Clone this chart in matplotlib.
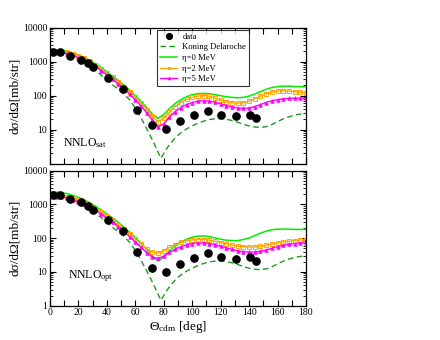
import matplotlib
matplotlib.use('Agg')
import matplotlib.pyplot as plt
from matplotlib.ticker import MultipleLocator, LogLocator, NullFormatter

plt.rcParams.update({
    'font.family': 'Liberation Serif',
    'mathtext.fontset': 'custom',
    'mathtext.rm': 'Liberation Serif',
    'mathtext.it': 'Liberation Serif:italic',
    'font.size': 7,
})

# data (both panels)
data_deg = [2, 7, 14, 22, 26.5, 30, 41, 51, 61, 71.5, 81.5, 91.5, 101, 111,
            120.5, 130.5, 140.5, 145]
data_xs = [1950, 1900, 1480, 1150, 900, 690, 340, 160, 38, 13.4, 10.3, 17.6,
           26.5, 35.5, 28, 25, 27.5, 21.5]

# theory curves on a 4-degree grid
theta = list(range(0, 181, 4))

sat_eta0 = [2290, 2265, 2190, 2040, 1820, 1585, 1350, 1096, 871, 676, 501, 380,
            282, 204, 145, 100, 67.6, 44.7, 28.8, 21.4, 28.2, 41.7, 58.9, 75.9,
            93.3, 107, 115, 117, 115, 107, 100, 93.3, 89.1, 87.1, 89.1, 97.7,
            112, 132, 155, 174, 186, 191, 191, 186, 186, 182]
sat_eta2 = [2140, 2110, 2040, 1905, 1700, 1480, 1260, 1023, 813, 617, 457, 347,
            257, 186, 132, 91.2, 60.3, 38.9, 24.5, 17.4, 21.4, 33.1, 47.9, 63.1,
            77.6, 89.1, 97.7, 100, 95.5, 85.1, 74.1, 66.1, 61.7, 60.3, 61.7, 69.2,
            81.3, 97.7, 115, 129, 138, 141, 138, 132, 126, 120]
sat_eta5 = [1950, 1930, 1860, 1740, 1550, 1320, 1120, 912, 724, 550, 407, 302,
            224, 158, 112, 75.9, 50.1, 31.6, 19.1, 12.3, 14.8, 23.4, 33.9, 44.7,
            55.0, 63.1, 69.2, 70.8, 69.2, 64.6, 57.5, 51.3, 46.8, 43.7, 42.7, 43.7,
            47.9, 55.0, 63.1, 70.8, 75.9, 81.3, 83.2, 85.1, 85.1, 85.1]

opt_eta0 = [2340, 2320, 2240, 2090, 1860, 1620, 1380, 1120, 891, 692, 525, 398,
            295, 214, 151, 105, 70.8, 46.8, 29.5, 20.9, 27.5, 41.7, 58.9, 77.6,
            93.3, 107, 115, 117, 112, 102, 93.3, 87.1, 85.1, 85.1, 91.2, 102,
            120, 141, 162, 178, 186, 186, 186, 182, 182, 182]
opt_eta2 = [1905, 1880, 1820, 1700, 1510, 1320, 1120, 933, 759, 589, 447, 339,
            251, 186, 135, 95.5, 67.6, 49.0, 38.9, 37.2, 42.7, 53.7, 64.6, 75.9,
            83.2, 89.1, 91.2, 91.2, 87.1, 81.3, 74.1, 67.6, 63.1, 58.9, 56.2, 55.0,
            55.0, 57.5, 61.7, 67.6, 72.4, 77.6, 81.3, 85.1, 89.1, 91.2]
opt_eta5 = [1740, 1720, 1660, 1550, 1380, 1200, 1023, 851, 676, 525, 389, 295,
            219, 158, 112, 77.6, 53.7, 37.2, 27.5, 25.1, 29.5, 38.0, 46.8, 56.2,
            63.1, 69.2, 72.4, 72.4, 69.2, 64.6, 57.5, 51.3, 46.8, 42.7, 39.8, 38.9,
            38.9, 40.7, 44.7, 50.1, 56.2, 61.7, 66.1, 69.2, 72.4, 72.4]

# Koning-Delaroche (same in both panels)
kd_deg = [0, 4, 8, 12, 16, 20, 24, 28, 32, 36, 40, 44, 48, 52, 56, 60, 64, 68,
          72, 74, 76, 78, 80, 82, 84, 88, 92, 96, 100, 104, 108, 112, 116, 120,
          124, 128, 132, 136, 140, 144, 148, 152, 156, 160, 164, 168, 172, 176,
          180]
kd_xs = [1950, 1905, 1820, 1660, 1445, 1175, 933, 724, 550, 407, 288, 209, 155,
         112, 75.9, 43.7, 22.4, 10.7, 5.01, 3.31, 2.19, 1.45, 2.00, 2.75, 3.63,
         5.75, 8.13, 10.5, 12.9, 15.5, 17.8, 20.0, 20.9, 21.4, 20.4, 18.6, 16.6,
         14.5, 12.9, 12.0, 11.7, 12.3, 14.1, 17.4, 20.9, 24.0, 26.9, 28.8, 30.2]

y_ticks = [1, 10, 100, 1000, 10000]

GREEN = '#00ee00'
ORANGE = '#ffa500'
MAGENTA = '#ff00ff'
DGREEN = '#1f9a1f'

fig = plt.figure(figsize=(4.4, 3.4), dpi=100)
ax_top = fig.add_axes([0.1136, 0.5185, 0.5818, 0.4])
ax_bot = fig.add_axes([0.1136, 0.1009, 0.5818, 0.397])


def draw(ax, eta0, eta2, eta5, tag, tag_pos, ylabels):
    ax.plot(data_deg, data_xs, 'o', color='black', markersize=5.2,
            label='data', zorder=5)
    ax.plot(kd_deg, kd_xs, '--', color=DGREEN, linewidth=1.0,
            dashes=(4, 2.5), label='Koning Delaroche')
    ax.plot(theta, eta0, '-', color=GREEN, linewidth=1.1, label='η=0 MeV')
    ax.plot(theta, eta2, '-', color=ORANGE, linewidth=1.0, marker='s',
            markersize=2.4, markerfacecolor='none', markeredgewidth=0.7,
            label='η=2 MeV')
    ax.plot(theta, eta5, '-', color=MAGENTA, linewidth=1.0, marker='^',
            markersize=2.6, markeredgewidth=0.5, label='η=5 MeV')
    ax.set_yscale('log')
    ax.set_xlim(0, 180)
    ax.set_ylim(1, 10000)
    ax.xaxis.set_major_locator(MultipleLocator(20))
    ax.xaxis.set_minor_locator(MultipleLocator(10))
    ax.yaxis.set_minor_locator(LogLocator(base=10, subs=range(2, 10), numticks=10))
    ax.yaxis.set_minor_formatter(NullFormatter())
    ax.set_yticks(y_ticks)
    ax.set_yticklabels(ylabels)
    ax.tick_params(which='both', direction='in', top=True, right=True,
                   labelsize=7, pad=2)
    ax.tick_params(which='major', length=4.5, width=0.8)
    ax.tick_params(which='minor', length=2.5, width=0.6)
    ax.tick_params(axis='x', which='minor', length=4.5, width=0.8)
    for s in ax.spines.values():
        s.set_linewidth(0.9)
    ax.set_ylabel('dσ/dΩ[mb/str]', fontsize=9.5, labelpad=1)
    ax.text(tag_pos[0], tag_pos[1], tag, transform=ax.transAxes, fontsize=8.5,
            va='center', ha='left')


draw(ax_top, sat_eta0, sat_eta2, sat_eta5, r'NNLO$_{\rm sat}$', (0.05, 0.15),
     ['', '10', '100', '1000', '10000'])
draw(ax_bot, opt_eta0, opt_eta2, opt_eta5, r'NNLO$_{\rm opt}$', (0.072, 0.22),
     ['1', '10', '100', '1000', '10000'])

ax_top.tick_params(axis='x', labelbottom=False)
ax_bot.set_xlabel(r'$\Theta_{\rm cdm}$ [deg]', fontsize=9.5, labelpad=1)

leg = ax_top.legend(loc='upper left', bbox_to_anchor=(0.418, 0.985),
                    borderaxespad=0, fontsize=6.2, frameon=True, fancybox=False,
                    edgecolor='black', handlelength=2.0, handletextpad=0.6,
                    labelspacing=0.3, borderpad=0.35, markerscale=0.8)
leg.get_frame().set_linewidth(0.8)

fig.savefig('out.png', dpi=100)
